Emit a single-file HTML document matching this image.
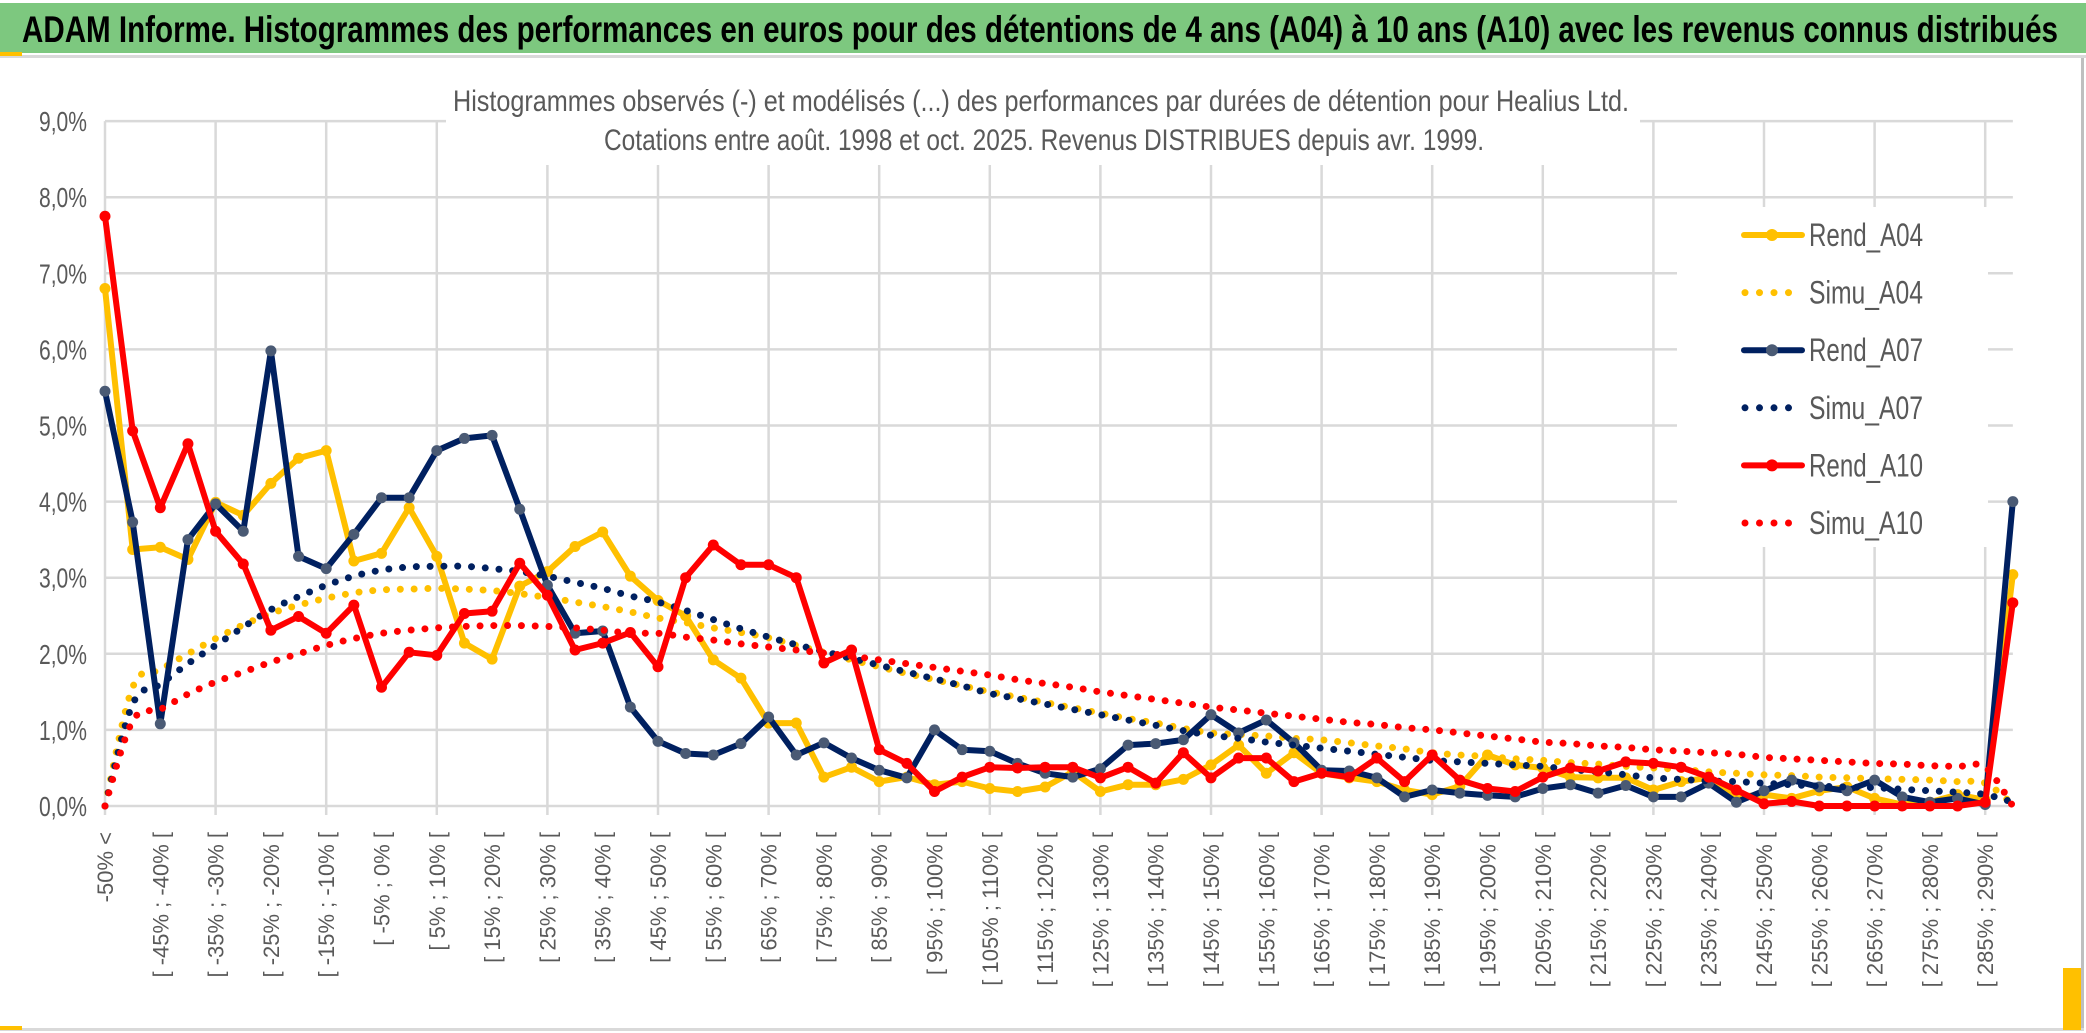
<!DOCTYPE html>
<html><head><meta charset="utf-8">
<style>
html,body{margin:0;padding:0;background:#fff;}
svg{display:block;}
text{font-family:"Liberation Sans Narrow","Liberation Sans",sans-serif;}
</style></head>
<body>
<svg id="chart" width="2086" height="1033" viewBox="0 0 2086 1033" xmlns="http://www.w3.org/2000/svg">
  <rect x="0" y="0" width="2086" height="1033" fill="#ffffff"/>
  <rect x="0" y="3" width="2086" height="50" fill="#7dc87f"/>
  <text x="22" y="42" font-size="37" font-weight="bold" fill="#000" textLength="2036" lengthAdjust="spacingAndGlyphs">ADAM Informe. Histogrammes des performances en euros pour des détentions de 4 ans (A04) à 10 ans (A10) avec les revenus connus distribués</text>
  <rect x="0" y="55" width="2086" height="3" fill="#d9d9d9"/>
  <rect x="0" y="52" width="22" height="4" fill="#ffc000"/>
  <rect x="2081" y="58" width="3" height="972" fill="#bfbfbf"/>
  <rect x="0" y="1028" width="2084" height="3" fill="#d9d9d9"/>
  <rect x="2063" y="968" width="18" height="62" fill="#ffc000"/>
  <rect x="0" y="1026" width="22" height="4" fill="#ffc000"/>
  <g id="grid"></g>
  <rect x="446" y="60" width="1194" height="105" fill="#ffffff"/>
  <text x="1041" y="111" text-anchor="middle" font-size="30" fill="#595959" textLength="1176" lengthAdjust="spacingAndGlyphs">Histogrammes observés (-) et modélisés (...) des performances par durées de détention pour Healius Ltd.</text>
  <text x="1044" y="150" text-anchor="middle" font-size="30" fill="#595959" textLength="880" lengthAdjust="spacingAndGlyphs">Cotations entre août. 1998 et oct. 2025. Revenus DISTRIBUES depuis avr. 1999.</text>
  <g id="yaxis"></g>
  <g id="xaxis"></g>
  <rect x="1677" y="207" width="311" height="340" fill="#ffffff"/>
  <g id="series"></g>
  <g id="legend"></g>
</svg>
<script>
const categories = (function(){ const c=["-50% <"]; for(let k=1;k<70;k++){ c.push("[ "+(-55+5*k)+"% ; "+(-50+5*k)+"% ["); } return c; })();
const yTicks = [0,1,2,3,4,5,6,7,8,9];
const yTickLabels = ["0,0%","1,0%","2,0%","3,0%","4,0%","5,0%","6,0%","7,0%","8,0%","9,0%"];
const rendA04 = [6.8,3.37,3.4,3.24,3.99,3.82,4.24,4.57,4.67,3.22,3.32,3.92,3.28,2.14,1.93,2.89,3.08,3.41,3.6,3.02,2.7,2.5,1.92,1.68,1.09,1.09,0.38,0.51,0.32,0.38,0.28,0.32,0.23,0.19,0.25,0.45,0.19,0.28,0.28,0.35,0.54,0.8,0.43,0.7,0.43,0.37,0.32,0.21,0.15,0.26,0.67,0.54,0.5,0.38,0.37,0.37,0.21,0.32,0.37,0.12,0.15,0.1,0.2,0.25,0.1,0.02,0.05,0.15,0.08,3.04];
const rendA07 = [5.45,3.73,1.08,3.5,3.97,3.61,5.98,3.28,3.12,3.57,4.05,4.05,4.67,4.83,4.87,3.9,2.9,2.27,2.3,1.3,0.85,0.69,0.67,0.82,1.17,0.67,0.83,0.63,0.47,0.37,1.0,0.74,0.72,0.56,0.43,0.38,0.49,0.8,0.82,0.87,1.2,0.96,1.13,0.83,0.47,0.46,0.37,0.12,0.21,0.17,0.14,0.12,0.23,0.28,0.17,0.27,0.12,0.12,0.3,0.05,0.2,0.34,0.25,0.2,0.34,0.12,0.05,0.1,0.02,4.0];
const rendA10 = [7.75,4.93,3.92,4.76,3.61,3.18,2.31,2.49,2.27,2.64,1.56,2.02,1.98,2.53,2.56,3.19,2.77,2.05,2.14,2.28,1.83,3.0,3.43,3.17,3.17,3.0,1.88,2.05,0.74,0.56,0.19,0.38,0.51,0.5,0.51,0.51,0.37,0.51,0.3,0.7,0.37,0.63,0.63,0.32,0.43,0.38,0.63,0.32,0.67,0.34,0.23,0.19,0.38,0.5,0.46,0.58,0.56,0.51,0.38,0.21,0.03,0.06,0,0,0,0,0,0,0.05,2.67];
const simuA04 = [0,1.56,1.79,2.0,2.2,2.38,2.53,2.64,2.73,2.8,2.84,2.85,2.86,2.85,2.83,2.79,2.74,2.68,2.62,2.55,2.47,2.41,2.34,2.28,2.21,2.11,2.02,1.92,1.83,1.74,1.66,1.58,1.5,1.43,1.36,1.29,1.22,1.15,1.09,1.02,0.96,0.94,0.92,0.89,0.87,0.83,0.79,0.75,0.7,0.67,0.65,0.62,0.6,0.57,0.55,0.52,0.5,0.48,0.45,0.43,0.41,0.4,0.38,0.37,0.36,0.35,0.34,0.32,0.3,0.02];
const simuA07 = [0,1.34,1.6,1.87,2.11,2.35,2.58,2.75,2.9,3.02,3.1,3.14,3.15,3.15,3.12,3.08,3.02,2.94,2.86,2.76,2.68,2.57,2.45,2.33,2.22,2.12,2.03,1.94,1.85,1.76,1.67,1.58,1.48,1.41,1.34,1.27,1.2,1.13,1.06,0.99,0.93,0.89,0.84,0.8,0.76,0.72,0.68,0.64,0.6,0.58,0.56,0.54,0.52,0.48,0.45,0.41,0.37,0.35,0.33,0.32,0.3,0.28,0.26,0.25,0.24,0.22,0.2,0.18,0.15,0.05];
const simuA10 = [0,1.12,1.27,1.47,1.63,1.76,1.89,2.0,2.11,2.2,2.27,2.31,2.34,2.36,2.37,2.37,2.36,2.34,2.31,2.27,2.27,2.22,2.18,2.13,2.09,2.05,2.01,1.97,1.92,1.87,1.82,1.77,1.72,1.66,1.61,1.56,1.5,1.45,1.4,1.35,1.3,1.26,1.22,1.18,1.14,1.1,1.07,1.03,1.0,0.96,0.92,0.88,0.84,0.82,0.79,0.77,0.74,0.72,0.7,0.68,0.64,0.62,0.6,0.58,0.56,0.55,0.53,0.52,0.51,0.0];
const legendLabels = ["Rend_A04","Simu_A04","Rend_A07","Simu_A07","Rend_A10","Simu_A10"];

const NS="http://www.w3.org/2000/svg";
const X0=105, STEP=27.65, Y0=806, YU=76.1;
function xs(i){ return X0+i*STEP; }
function ys(v){ return Y0-v*YU; }
function mk(tag, attrs, parent){ const e=document.createElementNS(NS,tag); for(const k in attrs) e.setAttribute(k,attrs[k]); parent.appendChild(e); return e; }

const grid=document.getElementById('grid');
const xEnd = xs(categories.length-1);
yTicks.forEach(function(t){
  const l=mk('line',{x1:X0,x2:xEnd,y1:ys(t),y2:ys(t),stroke:'#d9d9d9','stroke-width':2.5},grid);
  
  
});
for(let i=0;i<categories.length;i+=4){
  const l=mk('line',{x1:xs(i),x2:xs(i),y1:ys(9),y2:Y0+9,stroke:'#d9d9d9','stroke-width':2.5},grid);
  
  
}
const yaxis=document.getElementById('yaxis');
yTicks.forEach(function(t,k){
  const tx=mk('text',{x:87,y:ys(t)+10,'text-anchor':'end','font-size':28,fill:'#595959',textLength:48,lengthAdjust:'spacingAndGlyphs'},yaxis);
  tx.textContent=yTickLabels[k];
  
  
});
const xaxis=document.getElementById('xaxis');
for(let i=0;i<categories.length-1;i+=2){
  const x=xs(i)+8, y=832;
  const tx=mk('text',{x:x,y:y,'text-anchor':'end','font-size':22,fill:'#595959',transform:'rotate(-90 '+x+' '+y+')'},xaxis);
  tx.setAttribute('font-family','"Liberation Sans",sans-serif');
  tx.textContent=categories[i];
  
  
}

function smoothPath(vals){
  const p=vals.map(function(v,i){return [xs(i),ys(v)];});
  let d='M'+p[0][0]+','+p[0][1];
  for(let i=0;i<p.length-1;i++){
    const a=p[Math.max(0,i-1)], b=p[i], c=p[i+1], e=p[Math.min(p.length-1,i+2)];
    const c1=[b[0]+(c[0]-a[0])/6, b[1]+(c[1]-a[1])/6];
    const c2=[c[0]-(e[0]-b[0])/6, c[1]-(e[1]-b[1])/6];
    d+=' C'+c1[0].toFixed(1)+','+c1[1].toFixed(1)+' '+c2[0].toFixed(1)+','+c2[1].toFixed(1)+' '+c[0].toFixed(1)+','+c[1].toFixed(1);
  }
  return d;
}
function linePath(vals){ return vals.map(function(v,i){return (i?'L':'M')+xs(i).toFixed(1)+','+ys(v).toFixed(1);}).join(' '); }

const series=document.getElementById('series');
function drawRend(vals,color,mcolor,name){
  const g=mk('g',{},series);
  
  
  const p=mk('path',{d:linePath(vals),fill:'none',stroke:color,'stroke-width':6,'stroke-linejoin':'round'},g);
  
  
  vals.forEach(function(v,i){
    const c=mk('circle',{cx:xs(i),cy:ys(v),r:5.5,fill:mcolor},g);
    
    
  });
}
function drawSimu(vals,color,name){
  const p=mk('path',{d:smoothPath(vals),fill:'none',stroke:color,'stroke-width':7,'stroke-linecap':'round','stroke-dasharray':'0 13.8'},series);
  
  
}
drawRend(rendA04,'#ffc000','#ffc000','rend-a04');
drawSimu(simuA04,'#ffc000','simu-a04');
drawRend(rendA07,'#002060','#4a5a74','rend-a07');
drawSimu(simuA07,'#002060','simu-a07');
drawRend(rendA10,'#ff0000','#ff0000','rend-a10');
drawSimu(simuA10,'#ff0000','simu-a10');

const legend=document.getElementById('legend');
const legendColors=['#ffc000','#ffc000','#002060','#002060','#ff0000','#ff0000'];
const legendMarkers=['#ffc000',null,'#4a5a74',null,'#ff0000',null];
legendLabels.forEach(function(lab,k){
  const y=235+k*57.6;
  const g=mk('g',{},legend);
  
  
  if(legendMarkers[k]){
    mk('line',{x1:1744,x2:1802,y1:y,y2:y,stroke:legendColors[k],'stroke-width':6,'stroke-linecap':'round'},g);
    mk('circle',{cx:1772,cy:y,r:6,fill:legendMarkers[k]},g);
  } else {
    mk('line',{x1:1745,x2:1800,y1:y,y2:y,stroke:legendColors[k],'stroke-width':7,'stroke-linecap':'round','stroke-dasharray':'0 14.5'},g);
  }
  const t=mk('text',{x:1809,y:y+11,'font-size':32,fill:'#595959',textLength:114,lengthAdjust:'spacingAndGlyphs'},g);
  t.textContent=lab;
});
</script>
</body></html>
